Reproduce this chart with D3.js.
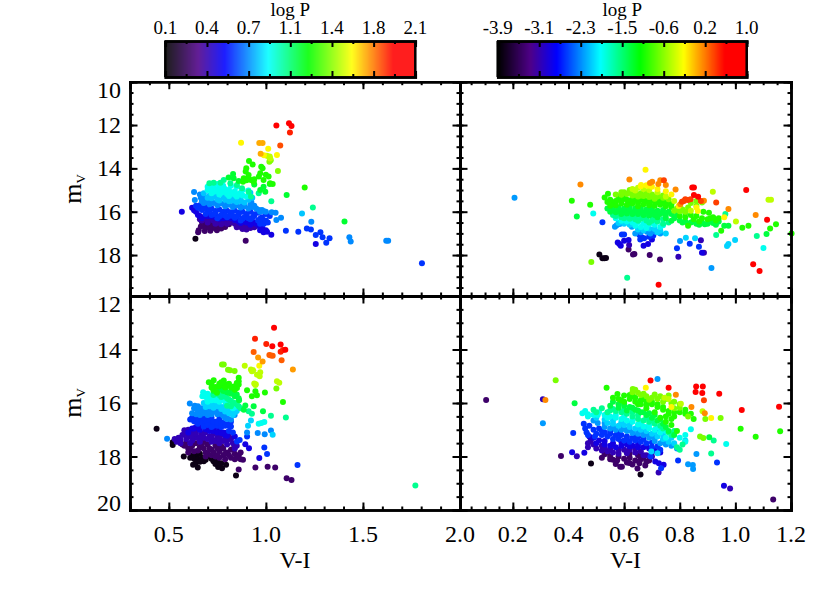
<!DOCTYPE html>
<html>
<head>
<meta charset="utf-8">
<script src="https://d3js.org/d3.v7.min.js"></script>
<style>
  body { margin: 0; background: #fff; }
  text { font-family: "Liberation Serif", serif; fill: #000; }
</style>
</head>
<body>
<svg></svg>
<script>
// each row: logP, then V-I,mV pairs of the stars with about that period
const starsTL = [
  [0.14, .637,17.25],
  [0.30, .654,16.85, .651,16.95, .685,16.89, .714,16.88, .689,16.72, .706,16.6, .74,16.77, .748,16.85, .896,17.34, .766,16.7, .79,16.7, .67,16.46, .69,16.55, .72,16.5, .75,16.62, .73,16.7, .78,16.6, .81,16.58, .665,16.68, .71,16.75, .77,16.78],
  [0.42, .67,16.4, .70,16.42, .73,16.4, .76,16.5, .79,16.5, .82,16.48, .85,16.35, .72,16.3, .77,16.35, .68,16.25, .88,16.8, .90,16.82, .92,16.75, .94,16.72, .87,16.7, .95,16.65, .91,16.68, .84,16.55, .885,16.6, .66,16.35, .69,16.32, .75,16.42, .8,16.42, .83,16.42, .7,16.5, .74,16.55, .77,16.58, .8,16.55, .86,16.6, .89,16.72, .93,16.62, .85,16.72, .81,16.48],
  [0.52, .567,16.0, .988,16.95, 1.006,16.92, 1.028,17.06, 1.0,16.85, 1.257,17.49, .64,16.0, .65,16.15, .66,16.2, .63,15.93, .7,16.2, .74,16.25, .78,16.3, .82,16.3, .86,16.45, .9,16.5, .94,16.5, .966,16.66, .98,16.72, .62,15.82, .67,16.3, .88,16.45, .92,16.6, .97,16.85, .985,16.82, .69,16.18, .72,16.22, .76,16.32, .8,16.28, .84,16.38, .87,16.52, .91,16.42, .95,16.55],
  [0.64, 1.103,16.88, 1.167,16.92, 1.211,16.77, 1.232,16.82, 1.257,17.08, 1.281,16.95, 1.292,17.18, 1.311,17.43, 1.328,17.22, 1.804,18.38, .66,15.7, .69,15.78, .72,15.85, .76,15.9, .8,15.95, .84,15.95, .88,16, .92,16.0, .96,16.05, .67,15.92, .7,16.0, .74,16.05, .78,16.08, .82,16.12, .86,16.15, .9,16.18, .94,16.2, .98,16.25, .72,16.15, .76,16.22, .8,16.25, .84,16.28, .88,16.32, .92,16.35, .96,16.4, 1.0,16.1, 1.02,16.2, .98,16.45, .99,16.55, 1.0,16.4, .65,15.82, .64,15.72, .97,16.55, 1.01,16.5, .68,15.85, .71,15.92, .74,15.97, .78,16.0, .82,16.03, .86,16.05, .9,16.1, .94,16.12, .69,16.1, .73,16.12, .77,16.15, .81,16.2, .85,16.22, .89,16.25, .93,16.28, .97,16.32, .75,16.3, .79,16.18, .83,16.2, .87,16.4, .91,16.3],
  [0.76, .63,15.09, .634,15.46, 1.43,17.18, 1.437,17.37, 1.62,17.34, 1.63,17.34, 1.078,16.28, 1.054,16.38, 1.234,16.46, .66,15.2, .665,15.35, .69,15.45, .72,15.5, .76,15.55, .80,15.6, .84,15.62, .88,15.65, .92,15.68, .68,15.6, .71,15.65, .75,15.7, .79,15.75, .83,15.78, .87,15.8, .91,15.85, .95,15.85, .98,15.92, 1.0,16.0, 1.03,16.02, 1.05,16.05, .94,15.72, .925,15.55, .97,16.0, .67,15.5, .7,15.55, .73,15.6, .77,15.62, .81,15.68, .85,15.7, .89,15.75, .93,15.78, .965,15.92, .99,15.98, .68,15.28, .71,15.38],
  [0.84, 1.186,16.08, .68,15.15, .71,15.25, .74,15.3, .78,15.32, .82,15.35, .86,15.38, .70,15.35, .75,15.42, .79,15.45, .83,15.48, .87,15.5, .91,15.45, .93,15.35, .92,15.12, .74,15.2, .79,15.25, .83,15.28, .87,15.42, .72,15.38, .76,15.48, .81,15.52, .85,15.55, .89,15.58],
  [0.94, .72,14.72, .75,14.72, .78,14.8, .70,14.85, .73,14.9, .76,14.88, .79,14.95, .82,14.8, .85,14.85, .88,15.0, .70,15.0, .74,15.05, .78,15.08, .81,15.0, .84,15.05, .87,15.12, .72,15.15, .76,15.2, .8,15.18, .84,15.22, .88,15.25, .91,15.02, .9,15.3, .71,14.95, .75,14.98, .77,15.0, .8,15.08, .83,15.12, .86,15.2, .73,15.08, .77,15.13, .81,15.27, .85,15.3],
  [1.06, 1.242,15.8, 1.028,15.52, .731,14.66, .709,14.69, .766,14.66, .817,14.69, .851,14.77, .877,14.92, .963,15.15, .911,15.08, .923,15.3, .783,14.54],
  [1.18, 1.405,16.45, 1.107,15.23, .831,14.26, .808,14.42, .834,14.46, .971,15.0, .988,14.85, .997,15.08, 1.02,14.72, .94,14.75, .86,14.58],
  [1.28, 1.2,14.88, .913,13.66, .932,13.82, .899,14.0, .896,14.15, .976,13.92, .983,14, .971,14.23, .964,14.38, 1.0,14.3, 1.014,14.38, 1.022,14.69, 1.035,14.72, .886,14.46, .911,14.31, .923,14.54, .937,14.62, .882,14.62, .988,14.54, .91,14.45, .94,14.5, .9,14.55],
  [1.42, 1.062,14.12, 1.025,13.62, 1.018,13.7],
  [1.50, 1.005,13.42, 1.02,13.45, 1.022,13.55, 1.018,13.5],
  [1.60, .872,12.82, 1.012,13.1, 1.057,13.38, .99,13.4],
  [1.70, .966,12.83, .983,12.83, .973,13.32],
  [1.82, 1.074,12.95],
  [1.88, 1.124,12.34],
  [2.00, 1.054,12.02, 1.119,11.92, 1.132,12.05]
];
const starsTR = [
  [-3.80, .511,17.98, .522,18.15, .529,18.15, .535,18.14],
  [-3.41, .637,17.95, .632,17.97, .692,18, .729,18.2, .616,17.74],
  [-3.07, .795,18.08, .618,17.54, .876,17.32, .887,17.89],
  [-2.87, .577,17.42, .583,17.49, .588,17.57, .6,17.34, .616,17.31, .67,17.57, .686,17.49, .7,17.28, .88,17.89],
  [-2.58, .522,16.49, .592,17.05, .6,17.05, .655,17.08, .663,17.18, .658,17.28, .69,17.15, .836,17.48, .869,17.62, .79,17.69, .672,17.22, .705,17.1],
  [-2.23, .206,15.35, .914,18.6, .567,16.69, .573,16.62, .584,16.57, .628,16.69, .64,17.0, .682,16.92, .694,17.0, .712,16.92, .73,17.0, .66,16.95, .70,16.85, .801,17.35],
  [-2.04, .822,17.2, .855,17.22, .97,17.58, .975,17.49, .999,17.31, .58,16.52, .6,16.55, .62,16.6, .65,16.82, .67,16.85, .69,16.78, .71,16.8, .73,16.88, .75,17.0, .72,16.95],
  [-1.84, .489,16.08, 1.101,17.68, .57,16.3, .59,16.42, .61,16.45, .63,16.5, .65,16.48, .67,16.55, .69,16.58, .71,16.6, .73,16.7, .64,16.65, .66,16.7, .68,16.75, .74,16.62],
  [-1.55, .964,16.11, 1.077,17.12, .931,17.08, .611,19.05, .56,16.15, .58,16.12, .6,16.18, .62,16.15, .64,16.2, .66,16.18, .68,16.25, .7,16.22, .72,16.3, .74,16.35, .76,16.5, .6,16.3, .62,16.32, .64,16.35, .66,16.32, .68,16.4, .7,16.42, .72,16.45, .74,16.55, .59,16.25, .63,16.25, .67,16.28, .71,16.35, .65,16.42, .69,16.5, .57,16.2],
  [-1.30, .43,16.22, .975,16.65, 1.112,17.03, .54,15.85, .56,15.9, .58,15.8, .6,15.85, .62,15.78, .64,15.85, .66,15.82, .68,15.9, .7,15.88, .72,15.95, .74,15.92, .76,16.0, .55,16.0, .57,16.02, .59,15.98, .61,16.0, .63,16.02, .65,16.0, .67,16.05, .69,16.08, .71,16.05, .73,16.1, .75,16.15, .77,16.1, .79,16.15, .78,16.3, .8,16.4, .82,16.45, .84,16.5, .86,16.55, .88,16.5, .9,16.55, .92,16.52, .94,16.45, .96,16.65, .77,16.42, .75,16.3, .72,16.25, .56,15.8, .58,15.95, .6,15.92, .62,15.92, .64,15.95, .66,15.93, .68,15.98, .7,15.98, .72,16.02, .74,16.02, .59,16.1, .61,16.08, .63,16.1, .65,16.1, .67,16.15, .69,16.18, .71,16.15, .81,16.5, .83,16.55, .85,16.45, .87,16.6, .89,16.58, .91,16.45, .93,16.6],
  [-1.00, .412,15.49, .478,15.68, .53,15.34, .542,15.17, 1.146,16.58, 1.125,16.77, 1.047,16.65, 1.025,16.74, 1.202,17, .949,16.88, .54,15.55, .56,15.6, .58,15.45, .6,15.4, .62,15.5, .64,15.45, .66,15.42, .68,15.5, .7,15.45, .72,15.55, .74,15.5, .76,15.6, .57,15.7, .59,15.62, .61,15.68, .63,15.62, .65,15.6, .67,15.65, .69,15.7, .71,15.72, .73,15.68, .75,15.75, .77,15.78, .6,15.28, .58,15.3, .65,15.75, .80,16.2, .82,16.05, .84,16.15, .86,16.2, .885,16.0, .905,16.05, .92,16.25, .94,16.3, .91,16.3, .87,16.45, .83,16.65, .55,15.45, .57,15.5, .59,15.52, .61,15.45, .63,15.38, .65,15.52, .67,15.45, .69,15.6, .71,15.55, .73,15.45, .75,15.62, .77,15.65, .55,15.72, .82,16.25, .85,16.35, .88,16.3, .9,16.35, .93,16.4],
  [-0.70, .6,15.1, .62,15.0, .64,15.1, .66,15.15, .68,15.1, .7,15.2, .72,15.3, .74,15.35, .76,15.42, .63,15.25, .65,15.3, .67,15.28, .69,15.32, .71,15.4, .57,15.2, .59,15.22, .61,15.18, .79,15.85, .81,15.9, .83,15.8, .86,15.72, .84,15.6, .86,15.5, .88,15.58, .482,18.32, .62,15.12, .64,15.2, .66,15.25, .68,15.22, .7,15.3, .72,15.2, .74,15.25, .59,15.1, .8,15.75, .82,16.0, .78,15.95, .8,15.98],
  [-0.47, .919,15.08, 1.119,15.45, 1.128,15.45, 1.002,16.45, .63,14.95, .65,14.9, .67,14.95, .69,15.0, .64,15.02, .72,15.1, .75,15.3, .78,15.5, .84,15.95],
  [-0.22, .677,14.06, .661,14.77, .685,14.8, .96,16.25, .865,15.97, .796,15.74, .7,14.85, .72,14.95, .75,15.05, .77,15.2, .66,14.82, .68,14.78, .86,15.8],
  [0.12, .443,14.75, .619,14.51, .701,14.62, .73,14.55, .75,14.77, .723,14.72, .785,14.97, .887,15.49, .975,15.88, 1.073,16.15, .802,15.65, .693,14.68],
  [0.36, .743,14.55, .808,15.54, .82,15.42, .829,15.46, .839,15.42, .815,15.5, .876,15.51, .931,15.57],
  [0.66, .845,14.88, .851,14.88, .851,15.23, .866,15.31, 1.039,15.0, 1.114,16.37, .724,19.37, 1.064,18.43, 1.087,18.74]
];
const starsBL = [
  [0.14, .437,16.96, .846,18.71, .577,18, .52,17.47, .52,17.57, .625,18.31, .649,18.41, .754,18.39, .774,18.44, .795,18.31, .62,17.95, .64,18, .66,17.9, .63,18.08, .65,18.1, .67,18.05, .69,18.12, .71,18.0, .73,18.18, .75,18.2, .77,18.25, .645,17.85, .64,18.22, .68,18.18, .72,18.08, .74,18.28, .61,18.05, .66,18.2],
  [0.30, 1.009,18.38, .946,18.41, 1.048,18.41, 1.107,18.81, 1.132,18.88, .86,18.49, .882,18.12, .56,17.45, .58,17.6, .6,17.7, .62,17.6, .64,17.5, .66,17.65, .68,17.7, .7,17.55, .72,17.75, .74,17.6, .76,17.8, .78,17.7, .8,17.85, .82,17.75, .84,17.9, .86,17.95, .87,17.85, .7,17.9, .72,17.95, .74,18.0, .76,18.05, .78,17.95, .6,17.85, .68,17.45, .73,17.4, .82,18.05, .85,18.05, .57,17.55, .59,17.5, .61,17.72, .63,17.8, .65,17.78, .67,17.55, .69,17.85, .71,17.7, .73,17.85, .75,17.7, .77,17.62, .79,17.9, .81,17.95, .83,17.72, .87,18.1, .75,17.95, .79,18.1, .69,18.0, .84,18.1, .66,17.45],
  [0.44, .53,17.35, .55,17.3, .57,17.2, .58,17.02, .6,17.0, .59,17.35, .61,17.15, .63,17.05, .65,17.0, .67,17.15, .69,17.1, .71,17.25, .73,17.15, .75,17.3, .77,17.2, .79,17.35, .81,17.25, .83,17.5, .85,17.6, .64,17.3, .68,17.3, .72,17.45, .76,17.5, .8,17.55, .56,17.5, .62,17.4, .54,17.45, .6,17.25, .62,17.22, .64,17.15, .66,17.28, .68,17.12, .7,17.35, .72,17.28, .74,17.42, .76,17.35, .78,17.42, .8,17.4, .82,17.35, .84,17.7, .58,17.15, .56,17.38, .61,17.5, .66,17.45],
  [0.52, .894,17.54, .913,17.69, .966,18.06, .62,16.95, .64,16.9, .68,16.85, .7,16.95, .72,17.0, .74,16.9, .76,17.0, .78,17.1, .8,17.1, .66,17.0, .6,17.1, .63,16.95, .66,16.88, .69,16.98, .71,17.05, .73,17.05, .75,17.1, .77,17.12, .79,17.2, .8,17.22, .84,17.25],
  [0.64, .903,17.25, .851,17.44, .865,17.38, 1.163,18.32, 1.006,17.91, .992,17.66, .62,16.55, .64,16.5, .66,16.6, .68,16.5, .7,16.6, .72,16.55, .74,16.7, .76,16.6, .78,16.75, .8,16.8, .82,16.7, .65,16.78, .67,16.72, .69,16.75, .71,16.75, .73,16.85, .75,16.85, .77,16.9, .81,17.05, .83,17.1, .82,16.88, .63,16.68, .61,16.62, .65,16.62, .67,16.55, .69,16.62, .71,16.65, .73,16.7, .75,16.72, .77,16.72, .79,16.85, .81,16.85, .68,16.88, .7,16.82, .72,16.9],
  [0.76, .608,16.02, .634,16.1, .903,17.1, .958,17.12, .994,17.17, 1.026,17.03, .839,16.45, .491,17.34, .65,16.12, .67,16.2, .69,16.28, .71,16.35, .73,16.3, .75,16.42, .77,16.4, .79,16.55, .66,16.35, .68,16.38, .72,16.15, .74,16.2, .76,16.28, .78,16.3, .8,16.45, .65,16.3, .82,16.62, .63,16.2, .64,16.42, .66,16.45, .68,16.25, .7,16.22, .72,16.42, .74,16.32, .76,16.38, .78,16.48, .8,16.6, .62,16.38, .7,16.45],
  [0.86, .923,16.65, .908,16.85, 1.035,17.19, .7,16.05, .72,16.0, .74,16.08, .76,16.12, .78,16.15, .8,16.25, .82,16.3, .84,16.35, .75,15.98, .69,16.15, .68,16.0, .71,16.12, .73,16.18, .75,16.12, .77,16.22, .79,16.32, .81,16.38, .83,16.45, .85,16.3],
  [0.94, .963,16.78, .977,16.75, .992,16.71, .677,15.6, .673,15.75, .69,15.78, .71,15.72, .73,15.8, .75,15.75, .77,15.85, .79,15.95, .81,16.05, .83,16.2, .7,15.88, .72,15.9, .74,15.9, .76,15.95, .68,15.68, .7,15.65, .72,15.82, .74,15.82, .76,15.85, .78,15.88, .8,16.0, .82,16.08, .84,16.15, .7,15.95],
  [1.06, .911,16.31, .928,16.4, 1.026,16.48, 1.103,16.54, .74,15.65, .76,15.7, .78,15.75, .8,15.82, .82,15.92, .84,16, .86,16.12, .8,16.1, 1.77,19.08, .73,15.7, .75,15.62, .77,15.78, .79,15.72, .81,15.88, .83,15.98, .85,16.05, .82,16.12, .87,16.2],
  [1.16, .894,16.09, .937,16.12, .985,16.31, .886,16.25, .78,15.55, .8,15.6, .82,15.65, .84,15.75, .862,15.9, .76,15.5, .77,15.48, .79,15.52, .81,15.62, .83,15.58, .85,15.68, .86,15.82, .73,15.55],
  [1.28, .706,15.22, .731,15.15, .783,15.16, .80,15.31, .86,15.06, .86,15.19, .86,15.31, .834,15.38, .851,15.44, .757,15.38, .731,15.5, .748,15.62, .903,15.52, .946,15.56, .928,15.75, .954,15.71, .995,15.61, 1.088,15.96, .85,15.25, .78,15.35, .72,15.28, .72,15.42, .74,15.4, .76,15.28, .79,15.42, .81,15.28, .82,15.42, .84,15.5, .77,15.22],
  [1.40, .774,14.56, .783,14.56, .805,14.76, .839,14.8, 1.054,15.46, .815,14.78],
  [1.50, .891,14.61, .923,14.75, .928,14.81, .971,14.85, .954,14.94, .968,15.0, 1.057,15.19, 1.069,15.24, .94,15.27, .946,15.33, .935,14.78, .948,15.3],
  [1.60, .966,14.61],
  [1.72, .983,14.45, .96,14.3, 1.139,14.75],
  [1.80, .937,14.09, 1.018,14.21, 1.035,14.23, 1.081,14.4, 1.026,14.22],
  [1.88, 1.076,14.08, .944,13.6, 1.002,13.79, 1.088,14.02],
  [2.00, 1.042,13.19, 1.033,13.88, 1.076,13.81, 1.1,14.01]
];
const starsBR = [
  [-3.80, .481,18.26, .659,18.67],
  [-3.41, .104,15.89, .373,17.98, 1.136,19.61, .648,18.45, .676,18.34, .586,18.38, .592,18.38, .619,18.24, .53,17.92, .55,18.0, .56,18.12, .575,18.15, .6,18.08, .64,18.15, .66,18.1, .68,18.2, .655,18.25, .52,18.05, .69,18.15, .62,17.9, .66,18.0, .54,17.85, .58,18.0, .62,18.05, .65,17.95, .63,18.3, .67,18.05, .61,18.22, .57,18.28, .55,18.1],
  [-3.07, .308,15.86, .43,17.99, .981,19.2, .724,18.6, .5,17.7, .52,17.78, .54,17.8, .56,17.85, .58,17.9, .6,17.75, .62,17.75, .64,17.85, .66,17.8, .68,17.95, .7,18.0, .48,17.4, .47,17.5, .47,17.65, .49,17.55, .52,17.6, .55,17.72, .58,17.75, .61,17.88, .64,17.7, .67,17.95, .7,17.85, .53,17.68],
  [-2.87, .413,17.84, .457,17.86, .959,19.09, .742,18.31, .712,18.19, .725,18.25, .49,17.3, .51,17.4, .53,17.55, .55,17.6, .57,17.65, .59,17.6, .61,17.55, .63,17.6, .65,17.65, .67,17.65, .69,17.7, .475,17.25, .5,17.5, .53,17.42, .56,17.5, .59,17.45, .62,17.62, .65,17.55, .68,17.6, .71,17.75, .73,17.85],
  [-2.58, .417,17.12, .934,18.22, .794,18.15, .733,18.44, .46,16.95, .465,17.1, .475,16.85, .49,17.0, .5,17.15, .52,17.2, .54,17.25, .56,17.35, .58,17.35, .6,17.4, .62,17.45, .64,17.4, .66,17.45, .68,17.5, .7,17.65, .51,16.95, .53,17.1, .55,17.15, .57,17.2, .59,17.2, .61,17.25, .63,17.3, .65,17.28, .695,18.0, .72,16.95, .455,16.78, .47,17.2, .495,17.25, .52,17.05, .55,17.05, .58,17.12, .61,17.35, .64,17.25, .67,17.35, .7,17.48, .72,17.62, .73,17.75, .69,17.2],
  [-2.23, .308,16.76, .72,15.1, .86,17.91, .83,18.29, .847,18.32, .848,18.47, .53,16.9, .55,16.95, .57,17.0, .59,17.0, .61,17.05, .63,17.12, .65,17.15, .67,17.2, .69,17.3, .71,17.42, .73,17.5, .75,17.55, .77,17.6, .79,17.7, .505,16.75, .53,16.75, .56,16.88, .59,16.9, .62,17.02, .65,17.05, .68,17.15, .71,17.3, .74,17.4, .49,16.65, .6,16.95, .67,17.1],
  [-2.04, .698,17.81, .72,17.88, .54,16.75, .56,16.78, .58,16.85, .6,16.82, .62,16.9, .64,16.95, .66,17.0, .68,17.05, .7,17.15, .72,17.25, .74,17.35, .76,17.45, .78,17.5, .82,17.4, .5,16.55, .53,16.62, .56,16.65, .59,16.72, .62,16.78, .65,16.9, .68,16.92, .71,17.08, .74,17.2, .77,17.3],
  [-1.84, .967,17.53, .46,16.3, .45,16.38, .47,16.5, .49,16.45, .51,16.35, .53,16.45, .55,16.5, .57,16.55, .59,16.6, .61,16.65, .63,16.7, .65,16.8, .67,16.88, .69,16.95, .71,17.0, .73,17.1, .75,17.3, .84,16.98, .82,17.45, .47,16.42, .505,16.45, .54,16.55, .57,16.45, .6,16.5, .63,16.6, .66,16.75, .69,16.82, .72,16.92, .75,17.05, .8,17.3, .82,17.2],
  [-1.55, .922,17.4, .913,17.89, .49,16.25, .52,16.2, .55,16.28, .57,16.3, .59,16.35, .61,16.4, .63,16.5, .65,16.6, .67,16.65, .69,16.7, .71,16.78, .73,16.85, .76,17.1, .79,17.65, .81,17.55, .8,17.75, .5,16.35, .54,16.35, .56,16.22, .6,16.25, .63,16.35, .65,16.45, .68,16.55, .7,16.62, .74,16.95, .77,17.2, .78,17.05],
  [-1.30, .422,16.01, .906,17.28, .58,16.05, .6,16.1, .62,16.15, .64,16.25, .66,16.35, .68,16.45, .7,16.55, .72,16.65, .74,16.78, .76,17.05, .78,17.2, .55,16.1, .58,16.18, .61,16.28, .63,16.18, .65,16.28, .67,16.35, .69,16.38, .71,16.45, .73,16.6, .75,16.9, .56,15.95, .6,16.02],
  [-1.00, .537,15.43, .576,15.66, .632,15.75, .64,15.8, .62,15.85, .66,15.9, .68,15.95, .7,16.05, .72,16.15, .74,16.25, .76,16.4, .78,16.5, .6,15.95, .65,16.05, .68,16.2, .71,16.35, .73,16.55, .75,16.7, .77,16.82, .79,17.05, .82,16.25, .84,16.4, .85,16.6, 1.019,16.96, 1.073,17.26, 1.161,17.06, .56,15.8, .58,15.85, .6,15.72, .62,15.7, .64,15.95, .66,16.05, .68,16.08, .7,15.95, .72,16.05, .74,16.15, .76,16.3, .78,16.35, .59,15.9, .67,15.85, .75,16.5, .77,16.6, .8,16.35, .82,16.4],
  [-0.70, .354,15.15, .631,15.48, .873,17.25, .885,17.31, .947,16.56, .892,16.6, .63,15.6, .66,15.7, .68,15.75, .7,15.8, .72,15.85, .75,15.85, .77,16.0, .78,16.2, .8,16.18, .83,16.5, .65,15.62, .67,15.65, .69,15.88, .71,15.68, .73,15.75, .76,15.72, .78,15.95, .74,15.95, .8,16.05, .64,15.5],
  [-0.47, .804,16.03, .882,16.31, .745,15.8, .76,15.85],
  [-0.22, .678,15.43, .913,16.56, .77,16.15],
  [0.12, .317,15.89, .786,15.69, .842,16.15, .89,16.38],
  [0.36, .887,15.9],
  [0.66, .695,15.16, .76,15.43, .859,15.38, .883,15.38, .857,15.59, .881,15.63, .942,15.65, 1.023,16.26, 1.157,16.14]
];

// tick labels as printed on the plot
const barTicksP = ["0.1", "0.4", "0.7", "1.1", "1.4", "1.8", "2.1"];
const barTicksO = ["-3.9", "-3.1", "-2.3", "-1.5", "-0.6", "0.2", "1.0"];
const rangeP = [0.1, 2.1];
const rangeO = [-3.9, 1.0];

// rainbow + black colour table, position on the bar and colour
const tablePos = [0, 0.13, 0.235, 0.41, 0.57, 0.745, 0.91, 1];
const tableCol = ["#000000", "#4f0089", "#0000ff", "#00ffff", "#00ff00", "#ffff00", "#ff0000", "#ff0000"];
const colorAt = d3.scaleLinear().domain(tablePos).range(tableCol).clamp(true);

var width = 830, height = 593;
var svg = d3.select("svg").attr("width", width).attr("height", height);

function stepsOf(a, b, s) {
	var out = [];
	for (var i = 0; i <= Math.round((b - a) / s); i++)
		out.push(+(a + i * s).toFixed(3));
	return out;
}

// one panel: box, inward ticks on all four sides, dots
function drawPanel(box, xDom, yDom, xMajor, xMinor, yMajor, yMinor, rows, pRange, showX, showY) {
	var x = d3.scaleLinear().domain(xDom).range([box.l, box.r]);
	var y = d3.scaleLinear().domain(yDom).range([box.t, box.b]);
	var col = d3.scaleLinear().domain(pRange).range([0, 1]);

	var stars = [];
	rows.forEach(function(row) {
		for (var i = 1; i < row.length; i += 2)
			stars.push({p: row[0], vi: row[i], mv: row[i + 1]});
	});

	svg.append("g").selectAll("circle")
		.data(stars)
		.enter()
		.append("circle")
		.attr("cx", function(d) { return x(d.vi); })
		.attr("cy", function(d) { return y(d.mv); })
		.attr("r", 3)
		.attr("fill", function(d) { return colorAt(col(d.p)); });

	function tickAxis(gen, scale, values, len, tx, ty) {
		var g = svg.append("g")
			.attr("transform", "translate(" + tx + "," + ty + ")")
			.call(gen(scale).tickValues(values).tickSize(-len).tickFormat(""));
		g.selectAll("line").attr("stroke", "#000").attr("stroke-width", 2);
		g.select(".domain").attr("stroke", "#000").attr("stroke-width", 2.5);
		return g;
	}

	[[xMajor, 7.5], [xMinor, 3.5]].forEach(function(t) {
		tickAxis(d3.axisBottom, x, t[0], t[1], 0, box.b);
		tickAxis(d3.axisTop, x, t[0], t[1], 0, box.t);
	});
	[[yMajor, 7.5], [yMinor, 3.5]].forEach(function(t) {
		tickAxis(d3.axisLeft, y, t[0], t[1], box.l, 0);
		tickAxis(d3.axisRight, y, t[0], t[1], box.r, 0);
	});

	if (showX) {
		svg.append("g").selectAll("text")
			.data(xMajor)
			.enter()
			.append("text")
			.attr("x", function(d) { return x(d); })
			.attr("y", box.b + 32)
			.attr("text-anchor", "middle")
			.attr("font-size", 24)
			.text(function(d) { return d.toFixed(1); });
		svg.append("text")
			.attr("x", (box.l + box.r) / 2)
			.attr("y", box.b + 58)
			.attr("text-anchor", "middle")
			.attr("font-size", 24)
			.text("V-I");
	}
	if (showY) {
		svg.append("g").selectAll("text")
			.data(yMajor)
			.enter()
			.append("text")
			.attr("x", box.l - 9)
			.attr("y", function(d) { return Math.min(Math.max(y(d), box.t + 8), box.b - 7) + 8; })
			.attr("text-anchor", "end")
			.attr("font-size", 24)
			.text(function(d) { return d; });
		var lab = svg.append("text")
			.attr("transform", "translate(81," + (box.t + box.b) / 2 + ") rotate(-90)")
			.attr("text-anchor", "middle")
			.attr("font-size", 26);
		lab.append("tspan").text("m");
		lab.append("tspan").attr("dy", 4).attr("font-size", 13).text("V");
	}
}

// colour bar with ticks and the period labels above it
function drawBar(l, r, t, b, labels) {
	var pos = d3.scaleLinear().domain([0, 1]).range([l, r]);
	var bar = svg.append("g");
	bar.selectAll("rect")
		.data(d3.range(0, 1, 1 / (r - l)))
		.enter()
		.append("rect")
		.attr("x", function(d) { return pos(d); })
		.attr("y", t)
		.attr("width", 1.3)
		.attr("height", b - t)
		.attr("fill", function(d) { return colorAt(d); });

	var ticks = d3.scaleLinear().domain([0, 6]).range([l, r]);
	var major = d3.range(0, 7), minor = d3.range(0.5, 6, 1);
	[[major, 6], [minor, 3]].forEach(function(s) {
		[[d3.axisBottom, b], [d3.axisTop, t]].forEach(function(a) {
			var g = svg.append("g")
				.attr("transform", "translate(0," + a[1] + ")")
				.call(a[0](ticks).tickValues(s[0]).tickSize(-s[1]).tickFormat(""));
			g.selectAll("line").attr("stroke", "#000").attr("stroke-width", 2);
			g.select(".domain").attr("stroke", "#000").attr("stroke-width", 2.5);
		});
	});
	svg.append("line").attr("x1", l).attr("x2", l).attr("y1", t).attr("y2", b).attr("stroke", "#000").attr("stroke-width", 2.5);
	svg.append("line").attr("x1", r).attr("x2", r).attr("y1", t).attr("y2", b).attr("stroke", "#000").attr("stroke-width", 2.5);

	svg.append("g").selectAll("text")
		.data(labels)
		.enter()
		.append("text")
		.attr("x", function(d, i) { return ticks(i); })
		.attr("y", 34)
		.attr("text-anchor", "middle")
		.attr("font-size", 19)
		.text(function(d) { return d; });
	svg.append("text")
		.attr("x", (l + r) / 2)
		.attr("y", 16)
		.attr("text-anchor", "middle")
		.attr("font-size", 19)
		.text("log P");
}

var boxTL = {l: 130, r: 460, t: 81.7, b: 296};
var boxTR = {l: 460, r: 791, t: 81.7, b: 296};
var boxBL = {l: 130, r: 460, t: 296, b: 510};
var boxBR = {l: 460, r: 791, t: 296, b: 510};

var xP = [0.3, 2.0], xO = [0.01, 1.2];
var xMajP = [0.5, 1.0, 1.5, 2.0], xMajO = [0.2, 0.4, 0.6, 0.8, 1.0, 1.2];
var xMinP = stepsOf(0.3, 2.0, 0.1), xMinO = stepsOf(0.05, 1.2, 0.05);

drawPanel(boxTL, xP, [10, 19.89], xMajP, xMinP, [10, 12, 14, 16, 18], stepsOf(10, 19.5, 0.5), starsTL, rangeP, false, true);
drawPanel(boxTR, xO, [10, 19.89], xMajO, xMinO, [10, 12, 14, 16, 18], stepsOf(10, 19.5, 0.5), starsTR, rangeO, false, false);
drawPanel(boxBL, xP, [12, 20], xMajP, xMinP, [12, 14, 16, 18, 20], stepsOf(12, 20, 0.5), starsBL, rangeP, true, true);
drawPanel(boxBR, xO, [12, 20], xMajO, xMinO, [12, 14, 16, 18, 20], stepsOf(12, 20, 0.5), starsBR, rangeO, true, false);

drawBar(165.3, 415.3, 41, 77, barTicksP);
drawBar(497.7, 746.7, 41, 77, barTicksO);
</script>
</body>
</html>
